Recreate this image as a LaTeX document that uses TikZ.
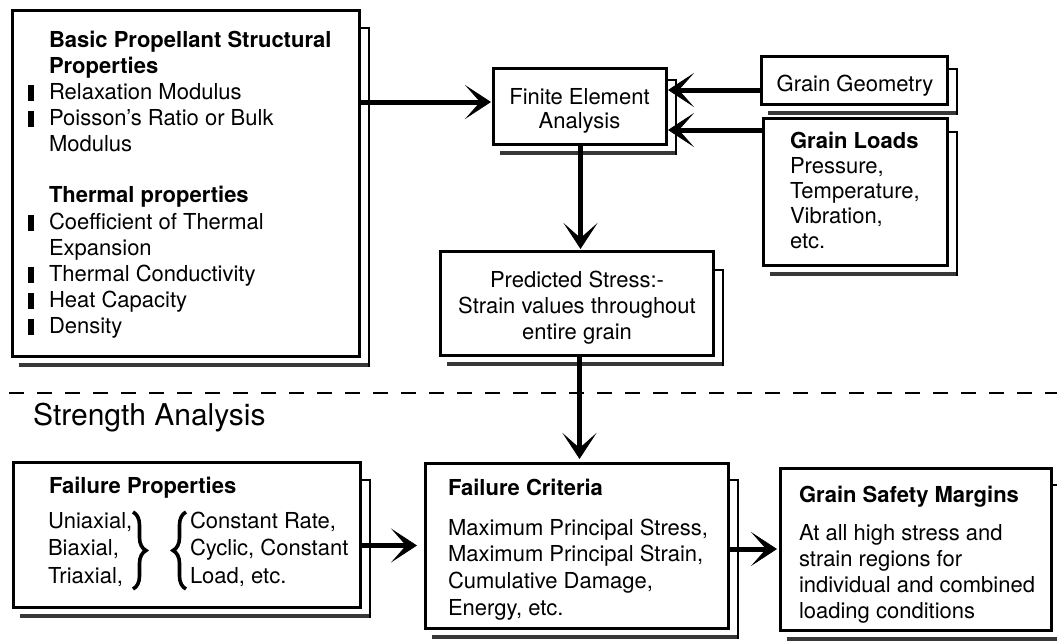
\documentclass[tikz,border=0pt]{standalone}
\usepackage{fontspec}
\setmainfont{TeX Gyre Heros}
\usetikzlibrary{arrows.meta,calc,decorations.pathreplacing}
% small black bar used as list bullet
\newcommand\blt{\llap{\rule[-1.5pt]{6pt}{16pt}\hspace{15pt}}}
% offset outline behind a box: grainy bottom band and thin right bracket
\newcommand\dropshadow[2]{%
  \draw[shade] ($(#1.south west)+(7,9)$) -- ($(#1.south east)+(10,9)$);
  \draw[edge] ($(#1.north east)+(0,#2)$) -- ++(10,0) -- ($(#1.south east)+(10,11)$);}
\begin{document}
\begin{tikzpicture}[x=1pt,y=-1pt,
  box/.style={draw, line width=3pt, anchor=north west, inner sep=0pt, outer sep=0pt},
  txt/.style={inner sep=0pt, outer sep=0pt, font=\fontsize{22}{26.2}\selectfont},
  arr/.style={line width=5pt, -{Stealth[length=26pt 0 0,width=34pt 0 0,inset=15pt 0 0,line width=0.8pt]}},
  shade/.style={line width=4pt, black!78},
  edge/.style={line width=1.5pt},
  brc/.style={decorate, decoration={brace, amplitude=13pt}, line width=3.6pt}]
\useasboundingbox (0,0) rectangle (1057,643);

% ---------------- boxes ----------------
\node[box, minimum width=347pt, minimum height=346pt] (A)  at (12,10)  {};
\node[box, minimum width=173pt, minimum height=76pt]  (FE) at (493,68) {};
\node[box, minimum width=186pt, minimum height=48pt]  (GG) at (761,56) {};
\node[box, minimum width=184pt, minimum height=147pt] (GL) at (763,118) {};
\node[box, minimum width=273pt, minimum height=104pt] (PS) at (440,251) {};
\node[box, minimum width=347pt, minimum height=145pt] (FP) at (13,462) {};
\node[box, minimum width=303pt, minimum height=165pt] (FC) at (425,463) {};
\node[box, minimum width=271pt, minimum height=162pt] (GS) at (780,468) {};

\dropshadow{A}{18}
\dropshadow{FE}{12}
\dropshadow{GG}{13}
\dropshadow{GL}{14}
\dropshadow{PS}{19}
\dropshadow{FP}{18}
\dropshadow{FC}{17}
\dropshadow{GS}{17}

% ---------------- texts ----------------
\node[txt, anchor=base west] (At) at (49,47) {\begin{tabular}[t]{@{}l@{}}
  \bfseries Basic Propellant Structural\\
  \bfseries Properties\\
  \blt Relaxation Modulus\\
  \blt Poisson's Ratio or Bulk\\
  Modulus\\[24.8pt]
  \bfseries Thermal properties\\
  \blt Coefficient of Thermal\\
  Expansion\\
  \blt Thermal Conductivity\\
  \blt Heat Capacity\\
  \blt Density
\end{tabular}};

\node[txt, anchor=base] (FEt) at (579.5,104) {\begin{tabular}[t]{@{}c@{}}
  Finite Element\\[-2pt] Analysis\end{tabular}};

\node[txt, anchor=base] (GGt) at (855,91) {Grain Geometry};

\node[txt, anchor=base west] (GLt) at (790,148) {\begin{tabular}[t]{@{}l@{}}
  \bfseries Grain Loads\\[-1pt]
  Pressure,\\[-1pt]
  Temperature,\\[-1pt]
  Vibration,\\[-1pt]
  etc.\end{tabular}};

\node[txt, anchor=base] (PSt) at (577,287) {\begin{tabular}[t]{@{}c@{}}
  Predicted Stress:-\\
  Strain values throughout\\
  entire grain\end{tabular}};

\node[inner sep=0pt, anchor=base west, font=\fontsize{30}{36}\selectfont] (SA) at (33,425) {Strength Analysis};

\node[txt, anchor=base west, font=\fontsize{22}{26.2}\selectfont\bfseries] (FPt) at (49,493) {Failure Properties};
\node[txt, anchor=base west] (FPa) at (48,528) {\begin{tabular}[t]{@{}l@{}}
  Uniaxial,\\[1.3pt] Biaxial,\\[1.3pt] Triaxial,\end{tabular}};
\node[txt, anchor=base west] (FPb) at (190,528) {\begin{tabular}[t]{@{}l@{}}
  Constant Rate,\\[1.3pt] Cyclic, Constant\\[1.3pt] Load, etc.\end{tabular}};
\draw[brc] (133,512) -- (133,589);
\draw[brc] (186,589) -- (186,512);

\node[txt, anchor=base west, font=\fontsize{22}{26.2}\selectfont\bfseries] (FCt) at (448,495) {Failure Criteria};
\node[txt, anchor=base west] (FCb) at (448,535) {\begin{tabular}[t]{@{}l@{}}
  Maximum Principal Stress,\\[0.5pt]
  Maximum Principal Strain,\\[0.5pt]
  Cumulative Damage,\\[0.5pt]
  Energy, etc.\end{tabular}};

\node[txt, anchor=base west, font=\fontsize{22}{26.2}\selectfont\bfseries] (GSt) at (799,502) {Grain Safety Margins};
\node[txt, anchor=base west] (GSb) at (799,540) {\begin{tabular}[t]{@{}l@{}}
  At all high stress and\\
  strain regions for\\
  individual and combined\\
  loading conditions\end{tabular}};

% ---------------- divider ----------------
\draw[line width=2.5pt, dash pattern=on 15pt off 13pt] (9,393) -- (1057,393);

% ---------------- connectors ----------------
\draw[arr] ($(A.east|-FE.west)+(0,-4)$) -- ($(FE.west)+(-2,-4)$);
\draw[arr] ($(GG.west)+(0,10)$) -- ($(FE.east|-GG.west)+(2,10)$);
\draw[arr] ($(GL.north west)+(0,12)$) -- ($(FE.east|-GL.north west)+(2,12)$);
\draw[arr] ($(FE.south)+(1,0)$) -- ($(FE.south|-PS.north)+(1,-2)$);
\draw[arr] ($(PS.south)+(3,0)$) -- ($(PS.south|-FC.north)+(3,-4)$);
\draw[arr] (FP.east|-FC.west) -- ($(FC.west)+(-8,0)$);
\draw[arr] (FC.east|-GS.west) -- ($(GS.west)+(-3,0)$);
\end{tikzpicture}
\end{document}
